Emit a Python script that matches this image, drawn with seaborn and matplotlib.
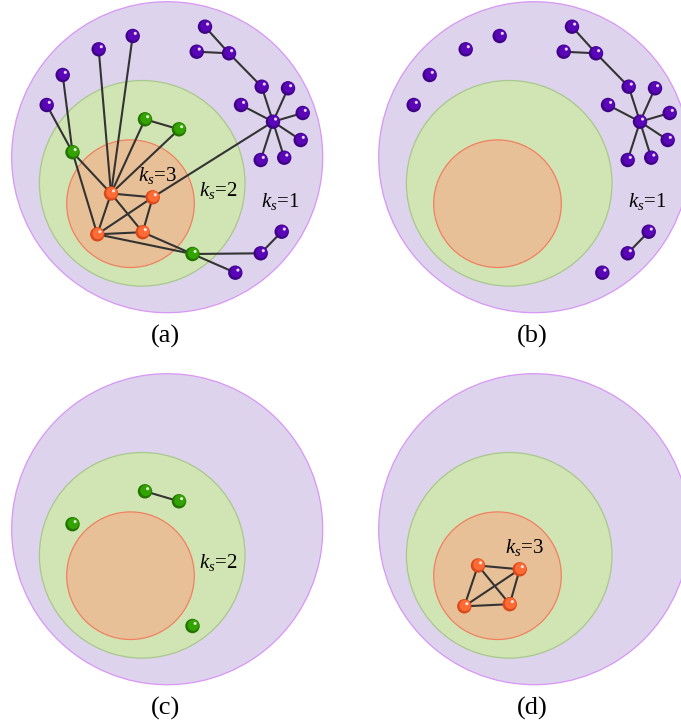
import numpy as np
import pandas as pd
import matplotlib
matplotlib.use("Agg")
import matplotlib.pyplot as plt
from matplotlib.patches import Circle
import seaborn as sns

# -----------------------------
# Network data (coordinates in panel-(a) pixel frame)
# -----------------------------
node_x = [205.0, 196.7, 229.0, 261.7, 288.0, 241.0, 273.0, 302.7, 300.7, 260.7, 284.2,
          281.7, 260.7, 235.3, 132.7, 98.7, 62.7, 46.7,
          72.5, 145.0, 179.0, 192.5,
          111.0, 152.7, 97.3, 142.7]
node_y = [26.7, 51.7, 53.3, 86.7, 88.3, 105.0, 121.7, 113.0, 140.0, 160.0, 157.7,
          231.7, 253.3, 272.7, 36.0, 49.3, 75.0, 105.0,
          152.2, 119.3, 129.3, 254.0,
          193.5, 197.3, 234.3, 232.2]
node_shell = [1] * 18 + [2] * 4 + [3] * 4

edge_src = [0, 1, 2, 3, 6, 6, 6, 6, 6, 6, 6, 14, 15, 16, 17, 18, 18, 19, 19, 20,
            22, 22, 22, 23, 23, 24, 24, 25, 21, 12, 21]
edge_dst = [2, 2, 3, 6, 4, 5, 7, 8, 9, 10, 23, 22, 22, 18, 18, 22, 24, 22, 20, 22,
            23, 24, 25, 25, 24, 25, 21, 21, 12, 11, 13]

# shells: outer (ks=1), middle (ks=2), core (ks=3)
shell_cx = [167.2, 142.2, 130.5]
shell_cy = [157.2, 183.3, 203.7]
shell_r = [155.5, 102.8, 63.8]
shell_fill = ["#ddd3ec", "#d1e4b4", "#e8c098"]
shell_edge = ["#d896f5", "#a8c88c", "#f08060"]

node_color = {1: "#5a06b8", 2: "#33a300", 3: "#ff6a35"}
node_dark = {1: "#3e0385", 2: "#237300", 3: "#d84a1c"}

panel_names = ["(a)", "(b)", "(c)", "(d)"]
panel_shells = [[1, 2, 3], [1], [2], [3]]
label_text = {1: r"$k_s$=1", 2: r"$k_s$=2", 3: r"$k_s$=3"}
label_x = {1: 280.0, 2: 218.0, 3: 157.5}
label_y = {1: 207.5, 2: 196.0, 3: 181.5}

# -----------------------------
# Style
# -----------------------------
sns.set_style("white")
plt.rcParams["font.family"] = ["Liberation Serif", "DejaVu Serif"]
plt.rcParams["mathtext.fontset"] = "custom"
plt.rcParams["mathtext.rm"] = "Liberation Serif"
plt.rcParams["mathtext.it"] = "Liberation Serif:italic"
plt.rcParams["text.color"] = "black"

W, H = 681, 724
fig = plt.figure(figsize=(W / 100, H / 100), dpi=100)

nodes = pd.DataFrame({"x": node_x, "y": node_y, "shell": node_shell})

# panel boxes: (left, top, width, height) in pixels
boxes = [(0, 0, 367, 372), (367, 0, 314, 372), (0, 372, 367, 352), (367, 372, 314, 352)]


def draw_panel(ax, shells, name):
    for cx, cy, r, fc, ec in zip(shell_cx, shell_cy, shell_r, shell_fill, shell_edge):
        ax.add_patch(Circle((cx, cy), r, facecolor=fc, edgecolor=ec, lw=0.9, zorder=1))

    keep = nodes["shell"].isin(shells)
    for s, d in zip(edge_src, edge_dst):
        if keep[s] and keep[d]:
            ax.plot([node_x[s], node_x[d]], [node_y[s], node_y[d]],
                    color="#333333", lw=1.5, zorder=2, solid_capstyle="round")

    sub = nodes[keep]
    for sh in shells:
        g = sub[sub["shell"] == sh]
        # fake sphere: dark rim, lighter body, small specular spot
        sns.scatterplot(x=g["x"], y=g["y"], color=node_dark[sh], s=108,
                        edgecolor="none", ax=ax, zorder=3, legend=False)
        sns.scatterplot(x=g["x"] + 0.8, y=g["y"] - 0.8, color=node_color[sh], s=66,
                        edgecolor="none", ax=ax, zorder=4, legend=False)
        sns.scatterplot(x=g["x"] + 2.6, y=g["y"] - 2.6, color="white", s=5, alpha=0.85,
                        edgecolor="none", ax=ax, zorder=5, legend=False)
        ax.text(label_x[sh], label_y[sh], label_text[sh], fontsize=15, color="black",
                ha="center", va="baseline", zorder=6)

    ax.text(165, 336.5, name, fontsize=19, color="black", ha="center", va="center")


for i, (l, t, w, h) in enumerate(boxes):
    ax = fig.add_axes([l / W, 1 - (t + h) / H, w / W, h / H])
    draw_panel(ax, panel_shells[i], panel_names[i])
    ax.set_xlim(0, w)
    ax.set_ylim(h, 0)
    ax.axis("off")

fig.savefig("out.png", dpi=100)
